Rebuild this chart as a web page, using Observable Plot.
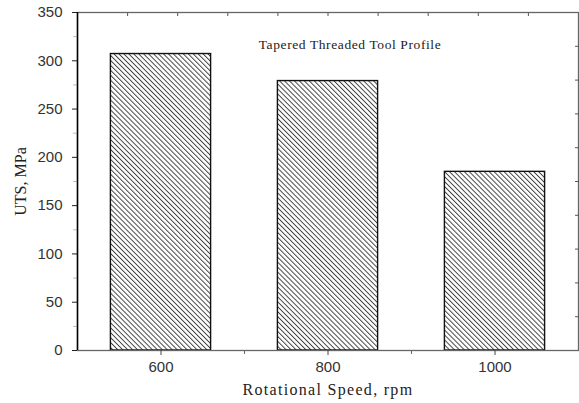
<!DOCTYPE html>
<html>
<head>
<meta charset="utf-8">
<script src="https://cdn.jsdelivr.net/npm/d3@7"></script>
<script src="https://cdn.jsdelivr.net/npm/@observablehq/plot@0.6"></script>
<style>
  body { margin: 0; background: #fff; }
</style>
</head>
<body>
<div id="chart"></div>
<script>
const rpm = [600, 800, 1000];
const uts = [307, 279, 185];
const yTicks = [0, 50, 100, 150, 200, 250, 300, 350];
const yMinor = [25, 75, 125, 175, 225, 275, 325];
const xTicks = [600, 800, 1000];
const xMinor = [700, 900];
const topTicks = [560, 620, 680, 740, 800, 860, 920, 980, 1040];
const rightTicks = [35, 70, 105, 140, 175, 210, 245, 280, 315];
const title = "Tapered Threaded Tool Profile";
const xLabel = "Rotational Speed, rpm";
const yLabel = "UTS, MPa";

const data = rpm.map((r, i) => ({rpm: r, uts: uts[i]}));
const halfWidth = 60;
const serif = "'Liberation Serif', 'Times New Roman', serif";

const chart = Plot.plot({
  width: 579,
  height: 403,
  marginLeft: 77,
  marginRight: 1,
  marginTop: 12,
  marginBottom: 53,
  style: {fontFamily: "'Liberation Sans', Arial, sans-serif", fontSize: "15px", color: "#333", background: "#fff"},
  x: {type: "linear", domain: [500, 1100]},
  y: {domain: [0, 350]},
  marks: [
    Plot.rectY(data, {x1: d => d.rpm - halfWidth, x2: d => d.rpm + halfWidth, y: "uts", fill: "url(#hatch)", stroke: "#111", strokeWidth: 1.4}),
    Plot.frame({stroke: "#666", strokeWidth: 1.3}),
    Plot.axisY({ticks: yTicks, tickSize: 5, tickPadding: 10, label: null, stroke: "#222"}),
    Plot.axisY({ticks: yMinor, tickSize: 4, tickFormat: () => "", label: null, stroke: "#bbb"}),
    Plot.axisY({anchor: "right", ticks: rightTicks, tickSize: -4, tickFormat: () => "", label: null, stroke: "#555"}),
    Plot.axisX({ticks: xTicks, tickSize: 5, tickPadding: 6, label: null, tickFormat: d => String(d), stroke: "#444"}),
    Plot.axisX({ticks: xMinor, tickSize: 4, tickFormat: () => "", label: null, stroke: "#666"}),
    Plot.axisX({anchor: "top", ticks: topTicks, tickSize: -3, tickFormat: () => "", label: null, stroke: "#555"}),
    Plot.ruleX([500], {stroke: "#000", strokeWidth: 1.5}),
    Plot.text([xLabel], {frameAnchor: "bottom", dy: 44, fontFamily: serif, fontSize: 16, fill: "#222"}),
    Plot.text([yLabel], {frameAnchor: "left", textAnchor: "middle", dx: -57, rotate: -90, fontFamily: serif, fontSize: 16, fill: "#222"}),
    Plot.text([title], {frameAnchor: "top", dx: 22, dy: 27, fontFamily: serif, fontSize: 13.5, fill: "#222"})
  ]
});

d3.select(chart).selectAll("text").each(function () {
  const t = this.textContent;
  if (t === xLabel) d3.select(this).attr("letter-spacing", "1.3px");
  if (t === title) d3.select(this).attr("letter-spacing", "0.6px");
});

const ns = "http://www.w3.org/2000/svg";
const defs = document.createElementNS(ns, "defs");
defs.innerHTML = '<pattern id="hatch" patternUnits="userSpaceOnUse" width="3.5" height="3.5" patternTransform="rotate(-45)"><rect width="3.5" height="3.5" fill="#fff"/><line x1="0.5" y1="0" x2="0.5" y2="3.5" stroke="#333" stroke-width="0.9"/></pattern>';
chart.insertBefore(defs, chart.firstChild);
document.getElementById("chart").appendChild(chart);
</script>
</body>
</html>
